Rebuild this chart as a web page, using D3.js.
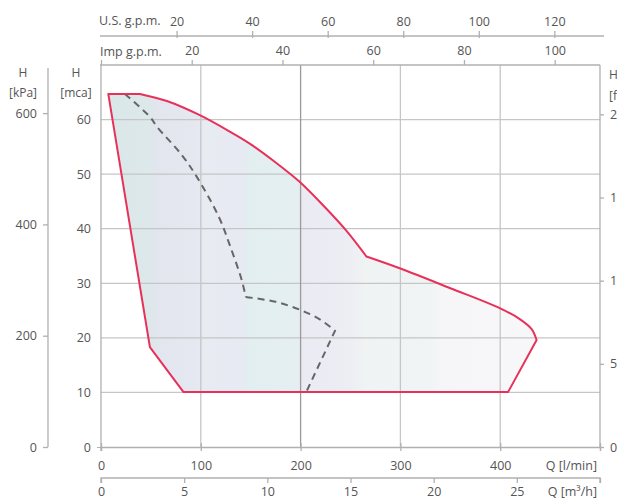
<!DOCTYPE html>
<html>
<head>
<meta charset="utf-8">
<script src="https://cdn.jsdelivr.net/npm/d3@7"></script>
<style>
  html, body { margin: 0; padding: 0; background: #fff; }
  svg { display: block; }
  text { font-family: "Open Sans", "Noto Sans", sans-serif; fill: #555; }
</style>
</head>
<body>
<svg id="chart" width="617" height="504"></svg>
<script>
// ---- Data (Q in l/min, H in mca) ----
// envelope pieces: straight top, curved upper arc, curved right lobe, straight remainder
const topEdgeQ = [7.3, 39];
const topEdgeH = [64.7, 64.7];
const upperArcQ = [39, 66, 99, 129, 149, 176, 199, 223, 246, 266];
const upperArcH = [64.7, 63.4, 60.8, 57.8, 55.6, 52.0, 48.6, 44.2, 39.6, 34.9];
const rightLobeQ = [266, 300, 350, 400, 420, 431.5, 436.5];
const rightLobeH = [34.9, 32.7, 29.1, 25.4, 23.4, 21.6, 19.6];
const lowerEdgeQ = [436.5, 408, 82.5, 49, 7.3];
const lowerEdgeH = [19.6, 10.1, 10.1, 18.3, 64.7];

const dashedQ = [24, 49, 56, 81, 96, 118, 130, 141, 145, 175, 200, 220, 234.5, 206];
const dashedH = [64.7, 60.5, 58.7, 53.5, 49.5, 42.2, 36.5, 30.6, 27.5, 26.6, 25.1, 23.3, 21.3, 10.2];

const qTicksLmin = [0, 100, 200, 300, 400];
const qTicksM3h = [0, 5, 10, 15, 20, 25];
const usGpmTicks = [20, 40, 60, 80, 100, 120];
const impGpmTicks = [20, 40, 60, 80, 100];
const mcaTicks = [0, 10, 20, 30, 40, 50, 60];
const kpaTicks = [0, 200, 400, 600];
const ftTicks = [0, 50, 100, 150, 200];

const Q_MAX = 500, H_MAX = 70;
const L_PER_USG = 3.78541, L_PER_IMPG = 4.54609, KPA_PER_M = 9.80665, M_PER_FT = 0.3048;

// ---- Layout ----
const svg = d3.select("#chart");
const X0 = 101, X1 = 600, Y0 = 447, Y1 = 65;
const x = d3.scaleLinear().domain([0, Q_MAX]).range([X0, X1]);
const y = d3.scaleLinear().domain([0, H_MAX]).range([Y0, Y1]);
const xM3 = d3.scaleLinear().domain([0, Q_MAX * 60 / 1000]).range([X0, X1]);
const xUS = d3.scaleLinear().domain([0, Q_MAX / L_PER_USG]).range([X0, X1]);
const xImp = d3.scaleLinear().domain([0, Q_MAX / L_PER_IMPG]).range([X0, X1]);
const yKpa = d3.scaleLinear().domain([0, H_MAX * KPA_PER_M]).range([Y0, Y1]);
const yFt = d3.scaleLinear().domain([0, H_MAX / M_PER_FT]).range([Y0, Y1]);

// gradient fill
const defs = svg.append("defs");
const grad = defs.append("linearGradient").attr("id", "fillGrad")
  .attr("gradientUnits", "userSpaceOnUse").attr("x1", X0).attr("x2", X1).attr("y1", 0).attr("y2", 0);
const stops = [
  [101, "#dae7e8"], [148, "#dce8e9"], [160, "#e3e5ef"], [195, "#e5e7f1"],
  [205, "#e7ebf2"], [240, "#e8eaf3"], [250, "#e2eef0"], [295, "#e5eff1"],
  [305, "#eaebf3"], [350, "#edeef4"], [365, "#eff3f3"], [430, "#f1f4f4"],
  [445, "#f6f6f8"], [600, "#f9f9fa"]
];
stops.forEach(s => grad.append("stop").attr("offset", (s[0] - X0) / (X1 - X0)).attr("stop-color", s[1]));

const zip = (a, b) => a.map((v, i) => [v, b[i]]);
const lineLin = d3.line().x(d => x(d[0])).y(d => y(d[1]));
const lineSmooth = d3.line().x(d => x(d[0])).y(d => y(d[1])).curve(d3.curveCatmullRom.alpha(0.5));
const cont = p => p.replace(/^M[^LC]*/, "");  // strip leading move
const envPath = lineLin(zip(topEdgeQ, topEdgeH))
  + cont(lineSmooth(zip(upperArcQ, upperArcH)))
  + cont(lineSmooth(zip(rightLobeQ, rightLobeH)))
  + cont(lineLin(zip(lowerEdgeQ, lowerEdgeH))) + "Z";
const dash = zip(dashedQ, dashedH);

svg.append("path").attr("d", envPath).attr("fill", "url(#fillGrad)").attr("stroke", "none");

// grid
const gridG = svg.append("g");
mcaTicks.filter(t => t > 0).forEach(t => {
  gridG.append("line").attr("x1", X0).attr("x2", X1).attr("y1", y(t)).attr("y2", y(t))
    .attr("stroke", "#c6c6c6").attr("stroke-width", 1.3);
});
[100, 200, 300, 400].forEach(t => {
  gridG.append("line").attr("x1", x(t)).attr("x2", x(t)).attr("y1", Y1).attr("y2", Y0)
    .attr("stroke", t === 200 ? "#9a9a9a" : "#c6c6c6").attr("stroke-width", 1.3);
});

// frame
const axisColor = "#b0b0b0";
svg.append("line").attr("x1", X0).attr("x2", X0).attr("y1", Y1).attr("y2", Y0 + 4).attr("stroke", axisColor).attr("stroke-width", 1.3);
svg.append("line").attr("x1", X1).attr("x2", X1).attr("y1", Y1).attr("y2", Y0).attr("stroke", axisColor).attr("stroke-width", 1.3);

function styleAxis(g) {
  g.select(".domain").attr("stroke", axisColor).attr("stroke-width", 1.3);
  g.selectAll(".tick line").attr("stroke", axisColor).attr("stroke-width", 1.3);
  g.selectAll(".tick text").attr("font-size", 12.5).attr("fill", "#555")
    .style("font-family", '"Open Sans", "Noto Sans", sans-serif');
}

// bottom l/min axis
const gB = svg.append("g").attr("transform", `translate(0,${Y0})`)
  .call(d3.axisBottom(x).tickValues(qTicksLmin.concat([500])).tickSize(4).tickPadding(10)
    .tickFormat(d => d === 500 ? "" : d));
styleAxis(gB);
gB.selectAll(".tick line").attr("y1", -4).attr("y2", 4);
svg.append("text").attr("x", 597).attr("y", 470).attr("text-anchor", "end").attr("font-size", 12.5).text("Q [l/min]");

// m3/h axis
const gM = svg.append("g").attr("transform", `translate(0,478)`)
  .call(d3.axisBottom(xM3).tickValues(qTicksM3h.concat([30])).tickSize(5).tickPadding(4)
    .tickFormat(d => d === 30 ? "" : d));
styleAxis(gM);
gM.select(".domain").attr("d", `M${X0},5V0H${X1}V5`);
svg.append("text").attr("x", 597).attr("y", 496).attr("text-anchor", "end").attr("font-size", 12.5)
  .text("Q [m³/h]");

// left mca axis
const gL = svg.append("g").attr("transform", `translate(${X0},0)`)
  .call(d3.axisLeft(y).tickValues(mcaTicks).tickSize(0).tickPadding(10));
styleAxis(gL);
gL.select(".domain").remove();
gL.selectAll(".tick").filter(d => d === 0).append("line").attr("x1", -4).attr("x2", 0).attr("stroke", axisColor);

// kPa axis
const gK = svg.append("g").attr("transform", `translate(48,0)`)
  .call(d3.axisLeft(yKpa).tickValues(kpaTicks).tickSize(5).tickPadding(6));
styleAxis(gK);
gK.select(".domain").attr("d", `M0,${Y1 + 3}V${Y0}`);

// ft axis (right)
const gR = svg.append("g").attr("transform", `translate(${X1},0)`)
  .call(d3.axisRight(yFt).tickValues(ftTicks).tickSize(4).tickPadding(6));
styleAxis(gR);
gR.select(".domain").remove();

// unit labels
function label(tx, ty, s, anchor) {
  svg.append("text").attr("x", tx).attr("y", ty).attr("text-anchor", anchor || "middle")
    .attr("font-size", 12).attr("dominant-baseline", "middle").text(s);
}
label(23, 74, "H"); label(23, 94, "[kPa]");
label(76, 74, "H"); label(76, 94, "[mca]");
label(609, 76, "H", "start"); label(609, 97, "[ft]", "start");

// top US gpm axis
const gUS = svg.append("g").attr("transform", `translate(0,36)`)
  .call(d3.axisTop(xUS).tickValues(usGpmTicks).tickSize(5).tickPadding(5));
styleAxis(gUS);
gUS.select(".domain").attr("d", `M${X0 - 1},0H${X1 + 4}`);
gUS.selectAll(".tick line").attr("y1", 2).attr("y2", -5);
svg.append("text").attr("x", 99).attr("y", 25).attr("font-size", 12.5).text("U.S. g.p.m.");

// top Imp gpm axis (plot top)
const gI = svg.append("g").attr("transform", `translate(0,${Y1})`)
  .call(d3.axisTop(xImp).tickValues([0].concat(impGpmTicks)).tickSize(5).tickPadding(5)
    .tickFormat(d => d === 0 ? "" : d));
styleAxis(gI);
gI.select(".domain").attr("d", `M${X0 - 1},0H${X1}`);
svg.append("text").attr("x", 100).attr("y", 56).attr("font-size", 12.5).text("Imp g.p.m.");

// curves
svg.append("path").attr("d", lineSmooth(dash.slice(0, 9))).attr("fill", "none").attr("stroke", "#666")
  .attr("stroke-width", 2).attr("stroke-dasharray", "7,5");
svg.append("path").attr("d", lineSmooth(dash.slice(8, 13)) + cont(lineLin(dash.slice(12)))).attr("fill", "none").attr("stroke", "#666")
  .attr("stroke-width", 2).attr("stroke-dasharray", "7,5");
svg.append("path").attr("d", envPath).attr("fill", "none").attr("stroke", "#e8315a")
  .attr("stroke-width", 2).attr("stroke-linejoin", "round");
</script>
</body>
</html>
